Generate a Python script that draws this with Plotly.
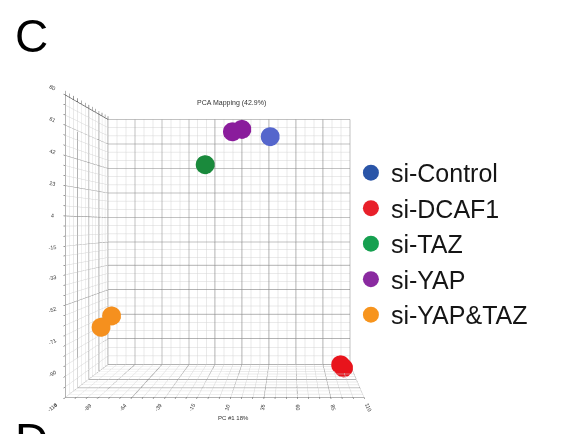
import plotly.graph_objects as go

# ---- data ----
groups = ["si-Control", "si-DCAF1", "si-TAZ", "si-YAP", "si-YAP&TAZ"]
colors = ["#5566cc", "#e8141c", "#1a8a3c", "#8a1c9c", "#f5901e"]
legend_colors = ["#2a55a8", "#e8202a", "#16a050", "#8a2aa0", "#f7941d"]
pc1 = {"si-Control": [36.5], "si-DCAF1": [99, 101], "si-TAZ": [-20.5],
       "si-YAP": [3, 11], "si-YAP&TAZ": [-99, -92]}
pc2 = {"si-Control": [65], "si-DCAF1": [-105, -106], "si-TAZ": [43],
       "si-YAP": [68, 70.5], "si-YAP&TAZ": [-71, -64]}
pc3 = {"si-Control": [35], "si-DCAF1": [26, 20], "si-TAZ": [25],
       "si-YAP": [30, 35], "si-YAP&TAZ": [-15, -10]}

x_ticks = [-114, -89, -64, -39, -15, 10, 35, 60, 85, 110]
y_ticks = [80, 61, 42, 23, 4, -15, -33, -52, -71, -90, -110]
z_ticks = [-50, -25, 0, 25, 50]

title = "PCA Mapping (42.9%)"
x_title = "PC #1 18%"

X_RANGE = [min(x_ticks), max(x_ticks)]
Y_RANGE = [min(y_ticks), max(y_ticks)]
Z_RANGE = [min(z_ticks), max(z_ticks)]


def with_minor(ticks):
    t = sorted(ticks)
    vals, txt = [], []
    for i, v in enumerate(t):
        vals.append(v)
        txt.append(str(v))
        if i < len(t) - 1:
            d = (t[i + 1] - v) / 3
            vals += [v + d, v + 2 * d]
            txt += ["", ""]
    return vals, txt


def major_grid():
    """Darker grid lines at the major ticks on the three far planes."""
    gx, gy, gz = [], [], []

    def seg(p, q):
        gx.extend([p[0], q[0], None])
        gy.extend([p[1], q[1], None])
        gz.extend([p[2], q[2], None])

    back, left, floor = Z_RANGE[1], X_RANGE[0], Y_RANGE[0]
    for v in x_ticks:
        seg((v, back, Y_RANGE[0]), (v, back, Y_RANGE[1]))
        seg((v, Z_RANGE[0], floor), (v, Z_RANGE[1], floor))
    for v in y_ticks:
        seg((X_RANGE[0], back, v), (X_RANGE[1], back, v))
        seg((left, Z_RANGE[0], v), (left, Z_RANGE[1], v))
    for v in z_ticks:
        seg((left, v, Y_RANGE[0]), (left, v, Y_RANGE[1]))
        seg((X_RANGE[0], v, floor), (X_RANGE[1], v, floor))
    return gx, gy, gz


fig = go.Figure()
gx, gy, gz = major_grid()
fig.add_trace(go.Scatter3d(x=gx, y=gy, z=gz, mode="lines",
                           line=dict(color="#858585", width=1.2),
                           hoverinfo="skip", showlegend=False))
for g, c, lc in zip(groups, colors, legend_colors):
    fig.add_trace(go.Scatter3d(
        x=pc1[g], y=pc3[g], z=pc2[g], mode="markers", name=g,
        marker=dict(size=11, color=c, line=dict(width=0), opacity=1),
        showlegend=False))
    fig.add_trace(go.Scatter(
        x=[None], y=[None], mode="markers", name=g,
        marker=dict(size=16, color=lc), showlegend=True))

xv, xt = with_minor(x_ticks)
yv, yt = with_minor(y_ticks)
zv, zt = with_minor(z_ticks)

axis_common = dict(showbackground=False, gridcolor="#d4d4d4", gridwidth=1,
                   showline=True, linecolor="#222", linewidth=1,
                   zeroline=False, showspikes=False,
                   tickfont=dict(size=8, color="#333", family="Liberation Sans"),
                   ticks="outside", ticklen=3, tickcolor="#333")

k = 370 / 432
fig.update_layout(
    width=564, height=434,
    margin=dict(l=0, r=0, t=0, b=0),
    paper_bgcolor="white", plot_bgcolor="white",
    showlegend=True,
    legend=dict(x=0.608, y=0.673, xanchor="left", yanchor="top",
                font=dict(size=25, family="Liberation Sans", color="#151515"),
                itemsizing="trace", tracegroupgap=0,
                bgcolor="rgba(0,0,0,0)"),
    xaxis=dict(visible=False, domain=[0.9, 0.91]),
    yaxis=dict(visible=False, domain=[0.9, 0.91]),
    scene=dict(
        domain=dict(x=[0.0, 1.0], y=[0.0046, 1.0]),
        xaxis=dict(axis_common, range=X_RANGE, tickvals=xv, ticktext=xt,
                   title=dict(text="")),
        yaxis=dict(axis_common, range=Z_RANGE, tickvals=zv, ticktext=zt,
                   showticklabels=False, title=dict(text="")),
        zaxis=dict(axis_common, range=Y_RANGE, tickvals=yv, ticktext=yt,
                   title=dict(text="")),
        aspectmode="manual",
        aspectratio=dict(x=1.1406 * k, y=0.4, z=1.1548 * k),
        camera=dict(up=dict(x=0, y=0, z=1),
                    center=dict(x=0.2875 * k, y=0, z=0.0848 * k),
                    eye=dict(x=0.2875 * k, y=-1.905, z=0.0848 * k),
                    projection=dict(type="perspective")),
        bgcolor="white",
    ),
    annotations=[
        dict(text="C", x=0.008, y=1.0, xref="paper", yref="paper",
             xanchor="left", yanchor="top", showarrow=False,
             font=dict(size=46, family="Liberation Sans", color="black")),
        dict(text="D", x=0.008, y=-0.06, xref="paper", yref="paper",
             xanchor="left", yanchor="bottom", showarrow=False,
             font=dict(size=46, family="Liberation Sans", color="black")),
        dict(text=title, x=0.397, y=0.781, xref="paper", yref="paper",
             xanchor="center", yanchor="middle", showarrow=False,
             font=dict(size=7, family="Liberation Sans", color="#333")),
        dict(text=x_title, x=0.399, y=0.056, xref="paper", yref="paper",
             xanchor="center", yanchor="middle", showarrow=False,
             font=dict(size=6, family="Liberation Sans", color="#333")),
    ],
)

fig.write_html("out.html")
